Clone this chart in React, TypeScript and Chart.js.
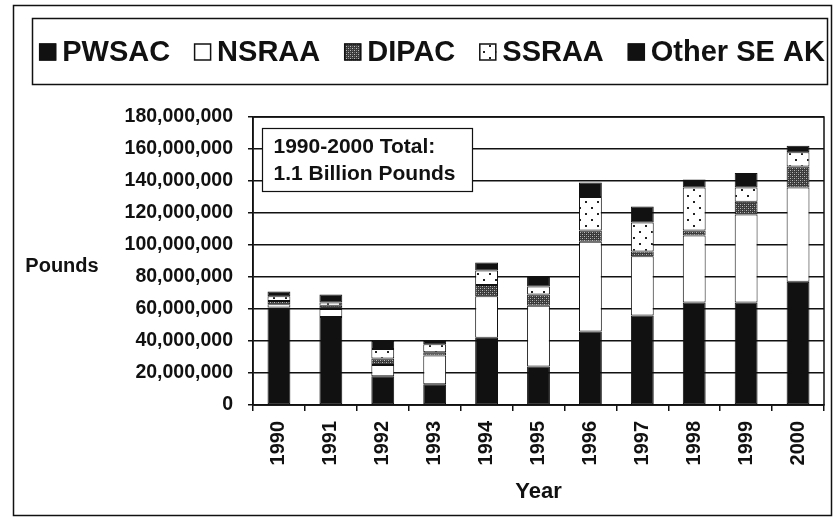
import React, { useEffect, useRef } from "react";
import { Chart, registerables } from "chart.js";

Chart.register(...registerables);

// Values in millions of pounds
const years = ["1990", "1991", "1992", "1993", "1994", "1995", "1996", "1997", "1998", "1999", "2000"];
const pwsac = [61, 55, 18, 13, 42, 24, 46, 56, 64, 64, 77];
const nsraa = [2, 5, 7, 18, 26, 38, 56, 37, 42, 55, 59];
const dipac = [2, 2, 4, 2, 7, 7, 7, 3, 3, 8, 13];
const ssraa = [3, 2, 6, 5, 9, 5, 21, 18, 27, 9, 9];
const otherSEAK = [3, 5, 5, 2, 5, 6, 9, 10, 5, 9, 4];
const seriesNames = ["PWSAC", "NSRAA", "DIPAC", "SSRAA", "Other SE AK"];
const yMax = 180;
const yStep = 20;
const annotationLines = ["1990-2000 Total:", "1.1 Billion Pounds"];
const yAxisLabel = "Pounds";
const xAxisLabel = "Year";

const MILLION = 1000000;
const INK = "#111111";
const FONT = '"Liberation Sans", Arial, sans-serif';

function makePattern(w: number, h: number, draw: (g: CanvasRenderingContext2D) => void) {
  const c = document.createElement("canvas");
  c.width = w;
  c.height = h;
  const g = c.getContext("2d")!;
  draw(g);
  return g.createPattern(c, "repeat")!;
}

function fmt(v: number) {
  return Math.round(v).toString().replace(/\B(?=(\d{3})+(?!\d))/g, ",");
}

export default function App() {
  const ref = useRef<HTMLCanvasElement | null>(null);

  useEffect(() => {
    if (!ref.current) return;
    Chart.defaults.font.family = FONT;

    const dipacPattern = makePattern(4, 4, (g) => {
      g.fillStyle = "#3a3a3a";
      g.fillRect(0, 0, 4, 4);
      g.fillStyle = "#bbbbbb";
      g.fillRect(0, 0, 1, 1);
      g.fillRect(2, 2, 1, 1);
      g.fillStyle = "#777777";
      g.fillRect(2, 0, 1, 1);
      g.fillRect(0, 2, 1, 1);
    });
    const ssraaPattern = makePattern(12, 12, (g) => {
      g.fillStyle = "#ffffff";
      g.fillRect(0, 0, 12, 12);
      g.fillStyle = "#222222";
      g.fillRect(3, 3, 2, 2);
      g.fillRect(9, 9, 2, 2);
    });

    const fills: (string | CanvasPattern)[] = [INK, "#ffffff", dipacPattern, ssraaPattern, INK];
    const seriesValues = [pwsac, nsraa, dipac, ssraa, otherSEAK];

    const decor = {
      id: "decor",
      beforeDraw(chart: any) {
        const ctx = chart.ctx as CanvasRenderingContext2D;
        ctx.save();
        ctx.fillStyle = "#ffffff";
        ctx.fillRect(0, 0, chart.width, chart.height);
        ctx.restore();
      },
      afterDraw(chart: any) {
        const ctx = chart.ctx as CanvasRenderingContext2D;
        const a = chart.chartArea;
        ctx.save();
        ctx.strokeStyle = INK;
        // outer frame
        ctx.lineWidth = 1.5;
        ctx.strokeRect(13.5, 5.5, 818, 510);
        // legend box
        ctx.strokeRect(32.5, 18.5, 795, 66);
        // plot frame
        ctx.lineWidth = 1.5;
        ctx.strokeRect(a.left, a.top, a.right - a.left, a.bottom - a.top);

        // legend
        ctx.font = `bold 29px ${FONT}`;
        ctx.textBaseline = "middle";
        ctx.textAlign = "left";
        const box = 17;
        const boxGap = 6;
        const itemGap = 24;
        const widths = seriesNames.map((n) => ctx.measureText(n).width);
        const total = widths.reduce((s, w) => s + w + box + boxGap, 0) + itemGap * (seriesNames.length - 1);
        let x = 432 - total / 2;
        const cy = 52;
        seriesNames.forEach((n, i) => {
          ctx.fillStyle = fills[i] as any;
          ctx.fillRect(x, cy - box / 2, box, box);
          ctx.lineWidth = 1.5;
          ctx.strokeStyle = INK;
          ctx.strokeRect(x + 0.5, cy - box / 2 + 0.5, box - 1, box - 1);
          ctx.fillStyle = INK;
          ctx.fillText(n, x + box + boxGap, cy + 1);
          x += box + boxGap + widths[i] + itemGap;
        });

        // y axis label (horizontal)
        ctx.font = `bold 20px ${FONT}`;
        ctx.textAlign = "center";
        ctx.fillStyle = INK;
        ctx.fillText(yAxisLabel, 62, 266);

        // annotation box
        const bx = a.left + 9.5;
        const by = a.top + 11.5;
        const bw = 210;
        const bh = 63;
        ctx.fillStyle = "#ffffff";
        ctx.fillRect(bx, by, bw, bh);
        ctx.lineWidth = 1.2;
        ctx.strokeRect(bx, by, bw, bh);
        ctx.fillStyle = INK;
        ctx.textAlign = "left";
        ctx.font = `bold 21px ${FONT}`;
        ctx.fillText(annotationLines[0], bx + 11, by + 19);
        ctx.fillText(annotationLines[1], bx + 11, by + 46);
        ctx.restore();
      },
    };

    const chart = new Chart(ref.current, {
      type: "bar",
      data: {
        labels: years,
        datasets: seriesNames.map((name, i) => ({
          label: name,
          data: seriesValues[i].map((v) => v * MILLION),
          backgroundColor: fills[i] as any,
          borderColor: INK,
          borderWidth: 1,
          borderSkipped: false,
          barPercentage: 0.44,
          categoryPercentage: 1,
        })),
      },
      options: {
        responsive: false,
        animation: false,
        layout: { padding: { top: 117, right: 11, left: 0, bottom: 0 } },
        plugins: {
          legend: { display: false },
          tooltip: { enabled: false },
          title: { display: false },
        },
        scales: {
          x: {
            stacked: true,
            offset: true,
            afterFit: (s: any) => {
              s.height = 113;
            },
            grid: {
              display: true,
              drawOnChartArea: false,
              drawTicks: true,
              tickLength: 6,
              color: INK,
              lineWidth: 1.5,
              offset: true,
            },
            border: { display: true, color: INK, width: 1.5 },
            ticks: {
              color: INK,
              font: { size: 20, weight: "bold" },
              minRotation: 90,
              maxRotation: 90,
              padding: 10,
            },
            title: {
              display: true,
              text: xAxisLabel,
              color: INK,
              font: { size: 22, weight: "bold" },
              padding: { top: 0, bottom: 13 },
            },
          },
          y: {
            stacked: true,
            min: 0,
            max: yMax * MILLION,
            afterFit: (s: any) => {
              s.width = 253;
            },
            grid: {
              color: INK,
              lineWidth: 1.5,
              tickLength: 5,
            },
            border: { display: true, color: INK, width: 1.5 },
            ticks: {
              stepSize: yStep * MILLION,
              color: INK,
              font: { size: 19.5, weight: "bold" },
              padding: 15,
              callback: (v: any) => fmt(Number(v)),
            },
          },
        },
      },
      plugins: [decor],
    });

    return () => chart.destroy();
  }, []);

  return (
    <div style={{ position: "fixed", left: 0, top: 0, width: 835, height: 518, background: "#fff" }}>
      <canvas ref={ref} width={835} height={518} style={{ width: 835, height: 518, display: "block" }} />
    </div>
  );
}
